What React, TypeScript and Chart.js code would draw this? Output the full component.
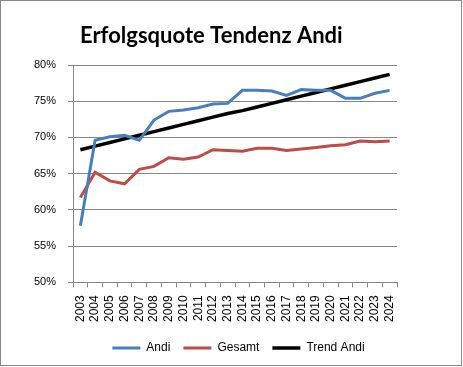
import React, { useEffect, useRef } from "react";
import { Chart, registerables } from "chart.js";

Chart.register(...registerables);

const years = ["2003","2004","2005","2006","2007","2008","2009","2010","2011","2012","2013","2014","2015","2016","2017","2018","2019","2020","2021","2022","2023","2024"];
const andi = [57.8,69.6,70.1,70.3,69.6,72.4,73.6,73.8,74.1,74.6,74.7,76.5,76.5,76.4,75.8,76.6,76.5,76.5,75.4,75.4,76.1,76.5];
const gesamt = [61.7,65.2,64.0,63.6,65.6,66.0,67.2,67.0,67.3,68.3,68.2,68.1,68.5,68.5,68.2,68.4,68.6,68.85,69.0,69.5,69.4,69.5];
const trendAndi = [68.3,68.8,69.3,69.8,70.3,70.8,71.3,71.8,72.3,72.8,73.3,73.7,74.2,74.7,75.2,75.7,76.2,76.7,77.2,77.7,78.2,78.7];
const titleText = "Erfolgsquote Tendenz Andi";

const FONT = "'Liberation Sans', Arial, sans-serif";

export default function App() {
  const ref = useRef<HTMLCanvasElement>(null);
  useEffect(() => {
    document.body.style.margin = "0";
    const frame = {
      id: "frame",
      afterLayout(chart: any) {
        const lg = chart.legend;
        if (lg) { lg.left += 29; lg.right += 29; }
      },
      afterDraw(chart: any) {
        const ctx = chart.ctx;
        ctx.save();
        ctx.strokeStyle = "#888888";
        ctx.lineWidth = 1;
        ctx.strokeRect(0.5, 0.5, 461, 365);
        ctx.fillStyle = "#000";
        ctx.font = "bold 22px Lato, 'Open Sans', sans-serif";
        ctx.textBaseline = "alphabetic";
        ctx.textAlign = "left";
        ctx.fillText(titleText, 80, 43);
        ctx.restore();
      },
    };
    const chart = new Chart(ref.current!, {
      type: "line",
      data: {
        labels: years,
        datasets: [
          { label: "Andi", data: andi, borderColor: "#4A7EBB", backgroundColor: "#4A7EBB", borderWidth: 3, pointRadius: 0, pointStyle: "line", tension: 0 },
          { label: "Gesamt", data: gesamt, borderColor: "#BE4B48", backgroundColor: "#BE4B48", borderWidth: 3, pointRadius: 0, pointStyle: "line", tension: 0 },
          { label: "Trend Andi", data: trendAndi, borderColor: "#000000", backgroundColor: "#000000", borderWidth: 3.5, pointRadius: 0, pointStyle: "line", tension: 0 },
        ],
      },
      options: {
        animation: false,
        responsive: false,
        layout: { padding: { top: 65, left: 22, right: 66, bottom: 3 } },
        plugins: {
          title: { display: false },
          tooltip: { enabled: false },
          legend: {
            position: "bottom",
            labels: {
              usePointStyle: true,
              pointStyleWidth: 28,
              font: { family: FONT, size: 12 },
              color: "#000",
              padding: 13,
            },
          },
        },
        scales: {
          x: {
            offset: true,
            grid: { display: true, drawOnChartArea: false, offset: true, color: "#868686", tickLength: 5 },
            border: { color: "#868686" },
            ticks: { maxRotation: 90, minRotation: 90, autoSkip: false, font: { family: FONT, size: 12 }, color: "#000", padding: 8 },
            afterFit: (s: any) => { s.height -= 1; },
          },
          y: {
            min: 50,
            max: 80,
            grid: { color: "#868686", tickLength: 5 },
            border: { color: "#868686" },
            ticks: { stepSize: 5, callback: (v: any) => v + "%", font: { family: FONT, size: 11 }, color: "#000", padding: 12 },
          },
        },
      },
      plugins: [frame],
    } as any);
    return () => chart.destroy();
  }, []);
  return <canvas ref={ref} width={463} height={367} style={{ display: "block" }} />;
}
